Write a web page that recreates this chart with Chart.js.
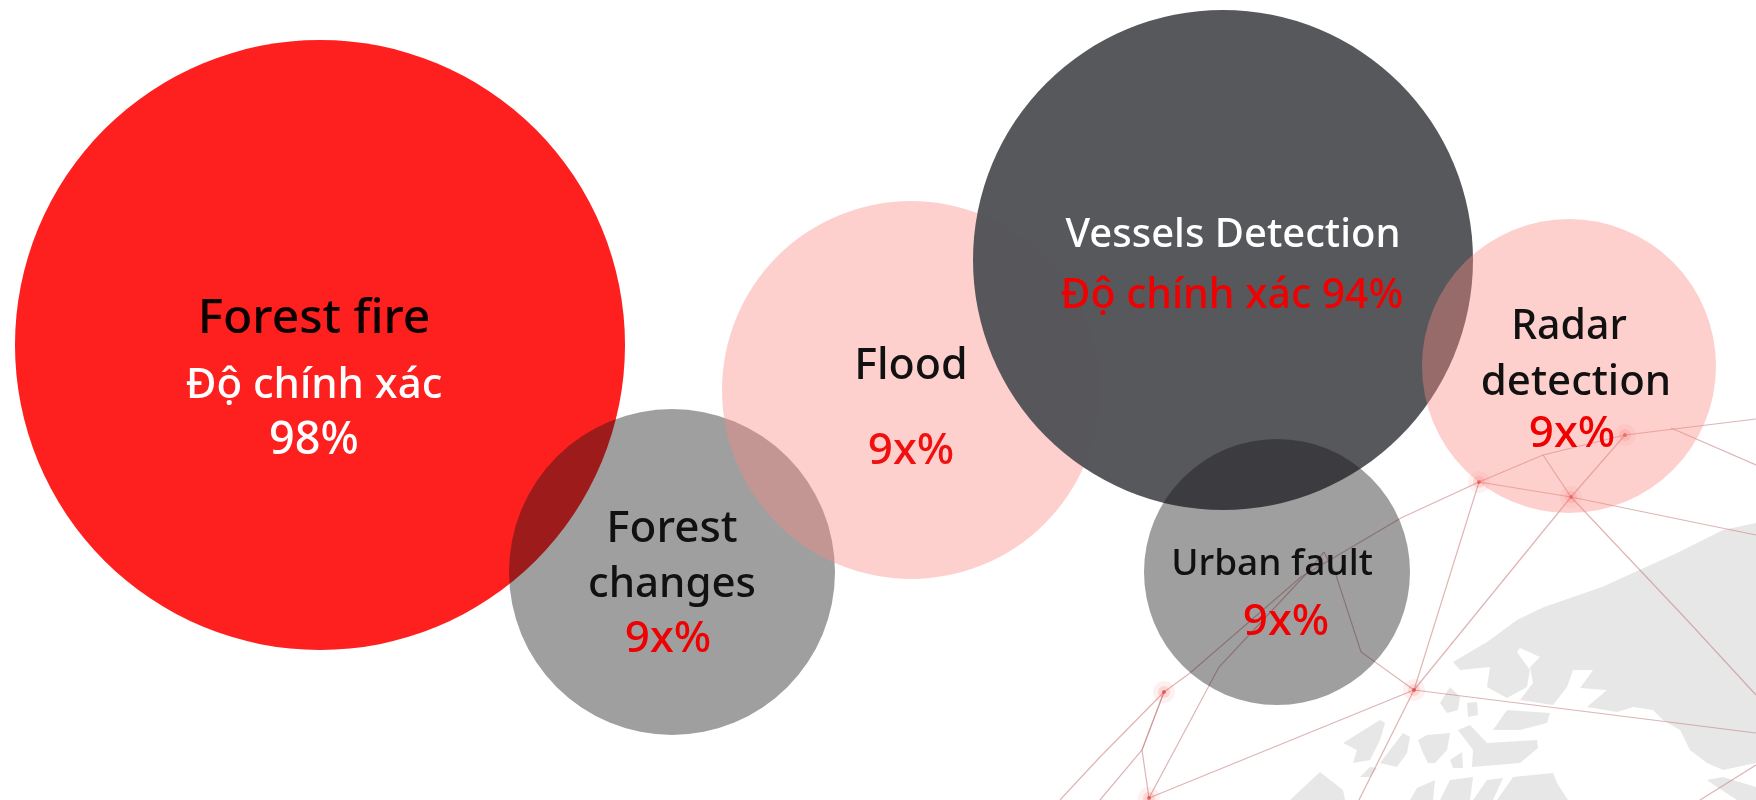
<!DOCTYPE html>
<html>
<head>
<meta charset="utf-8">
<title>Độ chính xác</title>
<style>
  html, body { margin: 0; padding: 0; background: #fff; overflow: hidden; }
  canvas { display: block; }
</style>
<script src="https://cdn.jsdelivr.net/npm/chart.js@4/dist/chart.umd.min.js"></script>
</head>
<body>
<canvas id="myChart" width="1756" height="800"></canvas>
<script>
// bubbles, listed from the bottom of the stack to the top
var categories = ["Forest fire", "Forest changes", "Flood", "Vessels Detection", "Urban fault", "Radar detection"];
var bubbleX = [320, 672, 911, 1223, 1277, 1569];
var bubbleY = [345, 572, 390, 260, 572, 366];
var bubbleR = [305, 163, 189, 250, 133, 147];
var bubbleColors = ["#fe1f1f", "rgba(22,22,24,.41)", "rgba(250,137,130,.4)", "rgba(84,85,89,.98)", "rgba(22,22,24,.41)", "rgba(250,137,130,.4)"];

// text inside the bubbles
var labelText = ["Forest fire", "Độ chính xác", "98%", "Forest", "changes", "9x%", "Flood", "9x%", "Vessels Detection", "Độ chính xác 94%", "Radar", "detection", "9x%", "Urban fault", "9x%"];
var labelX = [314, 314, 314, 672, 672, 668, 911, 911, 1233, 1232, 1569, 1576, 1572, 1272, 1286];
var labelY = [319, 386, 441, 529, 585, 639, 367, 451, 236, 296, 327, 383, 434, 564, 622];
var labelSize = [48, 42, 45, 44, 42, 44, 43, 44, 40, 41, 41, 42, 44, 37, 44];
var labelColor = ["#0a0000", "#fff", "#fff", "#111", "#111", "#f00000", "#111", "#f01010", "#fff", "#f00000", "#111", "#111", "#f00000", "#111", "#f00000"];

// grey map behind the network
var landShapes = [
  [[1756,523],[1723,530],[1677,553],[1602,587],[1544,607],[1517,620],[1487,642],[1453,662],[1460,670],[1490,667],[1487,687],[1507,698],[1527,687],[1530,670],[1517,652],[1520,648],[1540,657],[1530,667],[1533,683],[1520,700],[1553,705],[1567,687],[1573,670],[1593,670],[1580,688],[1607,690],[1587,707],[1617,712],[1633,707],[1653,710],[1663,720],[1680,730],[1690,750],[1707,763],[1723,770],[1756,763]],
  [[1493,730],[1507,710],[1550,713],[1547,723],[1520,730]],
  [[1440,703],[1450,687],[1460,697],[1458,710],[1447,713]],
  [[1467,703],[1477,702],[1478,715],[1468,717]],
  [[1458,730],[1470,725],[1487,743],[1537,740],[1538,748],[1520,763],[1472,767],[1473,750]],
  [[1418,740],[1427,735],[1450,733],[1447,750],[1435,763],[1428,763],[1423,753]],
  [[1343,743],[1380,720],[1385,723],[1380,740],[1370,760],[1353,763],[1357,750]],
  [[1380,763],[1403,733],[1410,737],[1407,753],[1397,767]],
  [[1450,760],[1462,752],[1463,768],[1453,768]],
  [[1290,800],[1320,772],[1343,790],[1345,800]],
  [[1410,800],[1417,788],[1435,780],[1433,800]],
  [[1440,800],[1450,780],[1473,777],[1470,800]],
  [[1473,800],[1487,780],[1503,778],[1493,800]],
  [[1497,800],[1513,777],[1553,773],[1557,783],[1568,800]],
  [[1707,780],[1723,777],[1756,787],[1756,800],[1737,800],[1717,787]],
  [[1360,777],[1370,767],[1377,768],[1370,777]]
];

// network lines and nodes
var networkPaths = [
  [[1479,482],[1543,455],[1625,435],[1756,419]],
  [[1479,482],[1401,518],[1301,577],[1190,673],[1164,692]],
  [[1324,552],[1307,573],[1219,667],[1149,798]],
  [[1479,482],[1571,497],[1756,535]],
  [[1479,482],[1414,690]],
  [[1571,497],[1414,690]],
  [[1543,455],[1571,497]],
  [[1625,435],[1571,497]],
  [[1571,497],[1687,620],[1756,695]],
  [[1671,428],[1756,465]],
  [[1324,552],[1336,575],[1361,652],[1414,690]],
  [[1414,690],[1756,733]],
  [[1414,690],[1149,798]],
  [[1414,690],[1359,800]],
  [[1164,692],[1142,750],[1149,798]],
  [[1164,692],[1142,750],[1100,800]],
  [[1164,692],[1100,757],[1060,800]],
  [[1756,765],[1700,800]]
];
var networkNodes = [[1479,482],[1571,497],[1625,435],[1414,690],[1164,692],[1149,798]];

function toPoints(list) {
  return list.map(function (p) { return { x: p[0], y: p[1] }; });
}

var datasets = [];

landShapes.forEach(function (shape) {
  datasets.push({
    type: 'scatter', showLine: true, data: toPoints(shape), order: 5,
    fill: 'shape', backgroundColor: '#e7e7e7', borderWidth: 0, pointRadius: 0
  });
});

networkPaths.forEach(function (path) {
  datasets.push({
    type: 'scatter', showLine: true, data: toPoints(path), order: 4,
    borderColor: 'rgba(200,130,130,.6)', borderWidth: 1.2, pointRadius: 0
  });
});

// soft glow round each node, three sizes stacked
[[11, 'rgba(250,70,70,.08)', 3], [6, 'rgba(250,70,70,.16)', 2], [2, 'rgba(225,60,60,.7)', 1]].forEach(function (g) {
  datasets.push({
    type: 'scatter', data: toPoints(networkNodes), order: g[2],
    pointRadius: g[0], backgroundColor: g[1], borderWidth: 0
  });
});

datasets.push({
  type: 'bubble',
  label: 'Độ chính xác',
  data: categories.map(function (c, i) { return { x: bubbleX[i], y: bubbleY[i], r: bubbleR[i] }; }),
  backgroundColor: bubbleColors,
  borderWidth: 0,
  order: 0
});

var bubbleText = {
  id: 'bubbleText',
  afterDatasetsDraw: function (chart) {
    var ctx = chart.ctx;
    ctx.save();
    ctx.textAlign = 'center';
    ctx.textBaseline = 'middle';
    labelText.forEach(function (t, i) {
      ctx.font = '500 ' + labelSize[i] + 'px "Noto Sans"';
      ctx.fillStyle = labelColor[i];
      ctx.fillText(t, chart.scales.x.getPixelForValue(labelX[i]), chart.scales.y.getPixelForValue(labelY[i]));
    });
    ctx.restore();
  }
};

var ctx = document.getElementById('myChart').getContext('2d');
var chart = new Chart(ctx, {
  type: 'bubble',
  data: { datasets: datasets },
  plugins: [bubbleText],
  options: {
    responsive: false,
    animation: false,
    layout: { padding: 0, autoPadding: false },
    plugins: { legend: { display: false }, tooltip: { enabled: false }, title: { display: false } },
    scales: {
      x: { type: 'linear', min: 0, max: 1756, display: false },
      y: { type: 'linear', min: 0, max: 800, reverse: true, display: false }
    }
  }
});
</script>
</body>
</html>
